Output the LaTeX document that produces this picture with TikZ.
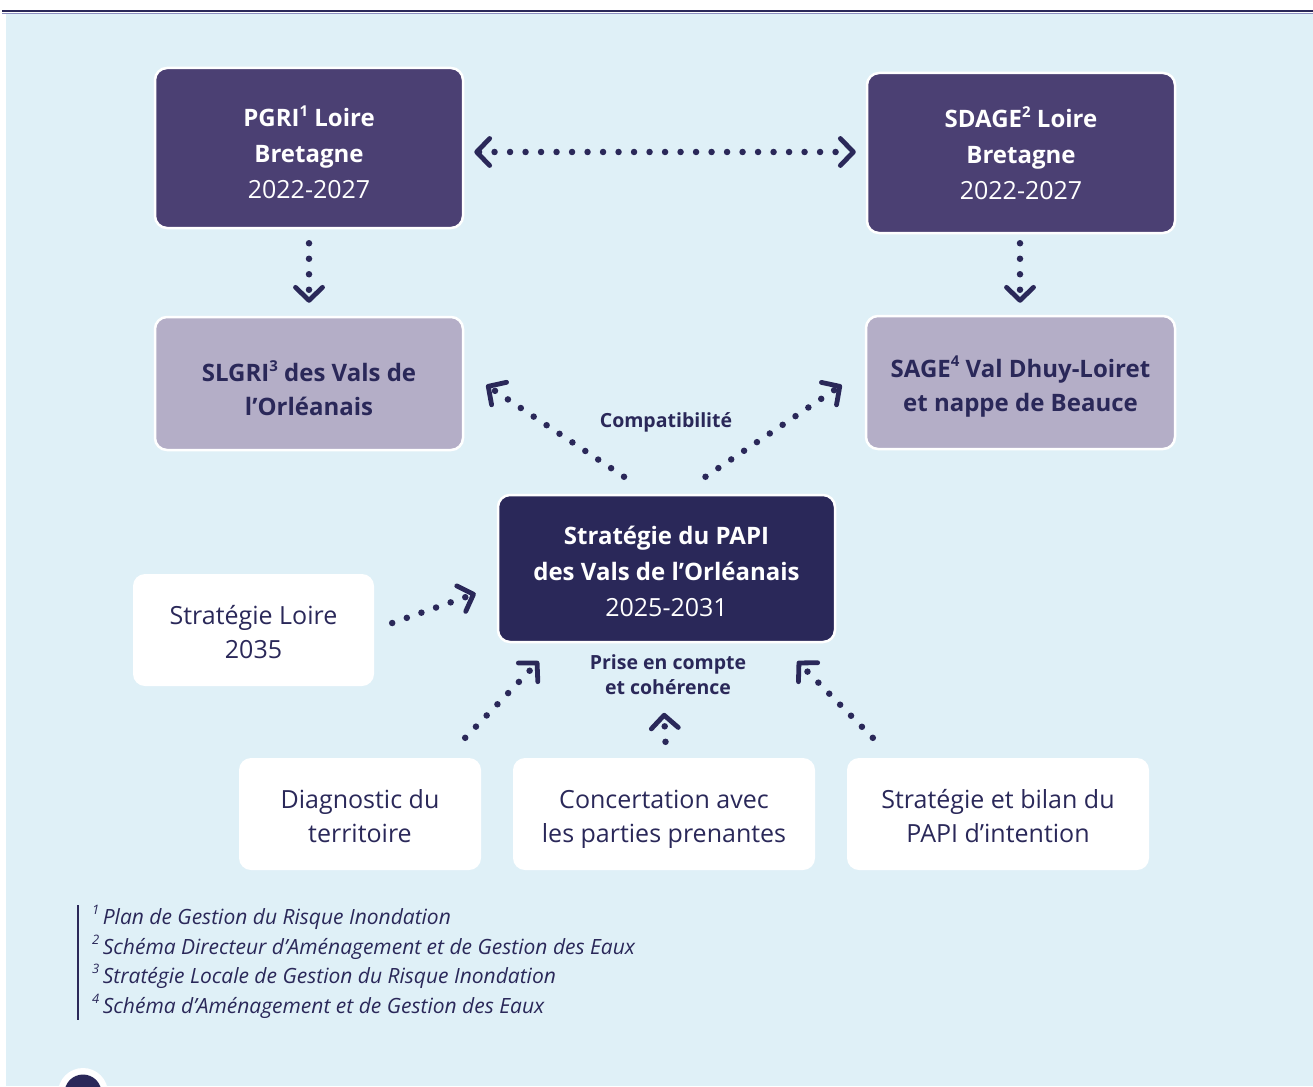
\documentclass[tikz,border=0pt]{standalone}
\usepackage{fontspec}
\setmainfont{Open Sans}
\usetikzlibrary{arrows.meta,calc}
\definecolor{navy}{HTML}{2A2859}
\definecolor{purp}{HTML}{4B4073}
\definecolor{lpurp}{HTML}{B4AEC7}
\definecolor{bgblue}{HTML}{DFF0F7}
\definecolor{lav}{HTML}{8C8FC0}
\newcommand{\sfn}[1]{\raisebox{0.42em}{\fontsize{15}{15}\selectfont #1}}
\newcommand{\fsup}[1]{\raisebox{0.45em}{\fontsize{13}{13}\selectfont #1}\,}
\tikzset{
  box/.style={rounded corners=12pt, inner sep=0pt},
  darkbox/.style={box, fill=purp, draw=white, line width=2.5pt},
  lightbox/.style={box, fill=lpurp, draw=white, line width=2.5pt},
  papibox/.style={box, fill=navy, draw=white, line width=2.5pt},
  whitebox/.style={box, fill=white},
  wtext/.style={text=white, align=center, inner sep=0pt, font=\fontsize{25}{36}\selectfont},
  ntext/.style={text=navy, align=center, inner sep=0pt, font=\fontsize{25}{34}\selectfont},
  btext/.style={text=navy, align=center, inner sep=0pt, font=\fontsize{24}{34}\selectfont\bfseries},
  lbl/.style={text=navy, align=center, font=\fontsize{19.5}{25}\selectfont\bfseries},
  dotarrow/.style={draw=navy, line width=6.5pt, line cap=round, dash pattern=on 0pt off 15.5pt,
    -{Straight Barb[length=13pt,width=27pt,line width=4.8pt,round]}},
  dotarrows/.style={dotarrow, {Straight Barb[length=13pt,width=27pt,line width=4.8pt,round]}-{Straight Barb[length=13pt,width=27pt,line width=4.8pt,round]}},
  fn/.style={text=navy, anchor=base west, inner sep=0pt, font=\fontsize{21}{24}\selectfont\itshape}
}
\begin{document}
\begin{tikzpicture}[x=1pt,y=-1pt]
\useasboundingbox (0,0) rectangle (1313,1086);
\clip (0,0) rectangle (1313,1086);
\fill[white] (0,0) rectangle (1313,1086);
\fill[bgblue] (6,14) rectangle (1313,1086);
\draw[navy, line width=2pt] (2,11.3) -- (1313,11.3);
\draw[lav, line width=1.2pt] (2,13.2) -- (1313,13.2);

% boxes
\node[darkbox, minimum width=308pt, minimum height=160pt] (pgri) at (309,148) {};
\node[wtext] (pgrit) at ($(pgri)+(0,4.5)$)
  {{\fontsize{24}{36}\selectfont\bfseries PGRI\sfn{1} Loire}\\ {\fontsize{24}{36}\selectfont\bfseries Bretagne}\\ 2022-2027};
\node[darkbox, minimum width=308pt, minimum height=160pt] (sdage) at (1021,153) {};
\node[wtext] (sdaget) at ($(sdage)+(0,0)$)
  {{\fontsize{24}{36}\selectfont\bfseries SDAGE\sfn{2} Loire}\\ {\fontsize{24}{36}\selectfont\bfseries Bretagne}\\ 2022-2027};
\node[lightbox, minimum width=308pt, minimum height=133pt] (slgri) at (309,383.5) {};
\node[btext] (slgrit) at ($(slgri)+(0,4.5)$)
  {SLGRI\sfn{3} des Vals de\\ l’Orléanais};
\node[lightbox, minimum width=309pt, minimum height=133pt] (sage) at (1020.5,382.5) {};
\node[btext] (saget) at ($(sage)+(0,4)$)
  {SAGE\sfn{4} Val Dhuy-Loiret\\ et nappe de Beauce};
\node[papibox, minimum width=337pt, minimum height=147pt] (papi) at (666.5,568.5) {};
\node[wtext] (papit) at ($(papi)+(0,3)$)
  {{\fontsize{24}{36}\selectfont\bfseries Stratégie du PAPI}\\ {\fontsize{24}{36}\selectfont\bfseries des Vals de l’Orléanais}\\ 2025-2031};
\node[whitebox, minimum width=241pt, minimum height=112pt] (loire) at (253.5,630) {};
\node[ntext] (loiret) at ($(loire)+(0,2)$) {Stratégie Loire\\ 2035};
\node[whitebox, minimum width=242pt, minimum height=112pt] (diag) at (360,814) {};
\node[ntext] (diagt) at ($(diag)+(0,2)$) {Diagnostic du\\ territoire};
\node[whitebox, minimum width=302pt, minimum height=112pt] (conc) at (664,814) {};
\node[ntext] (conct) at ($(conc)+(0,5)$) {Concertation avec\\ les parties prenantes};
\node[whitebox, minimum width=302pt, minimum height=112pt] (bilan) at (998,814) {};
\node[ntext] (bilant) at ($(bilan)+(0,2)$) {Stratégie et bilan du\\ PAPI d’intention};

% labels
\node[lbl] (compat) at (666,422) {Compatibilité};
\node[lbl] (prise) at (668,675) {Prise en compte\\ et cohérence};

% connectors
\draw[dotarrows] ($(pgri.east)+(10,4)$) -- ($(sdage.west)+(-10,-1)$);
\draw[dotarrow] ($(pgri.south)+(0,14)$) -- ($(slgri.north)+(0,-13)$);
\draw[dotarrow] ($(sdage.south)+(-1,9)$) -- ($(sage.north)+(-0.5,-12)$);
\draw[dotarrow] ($(papi.north)+(-42.5,-17)$) -- ($(slgri.east)+(22,1.5)$);
\draw[dotarrow] ($(papi.north)+(39,-17)$) -- ($(sage.west)+(-23,2.5)$);
\draw[dotarrow] ($(loire.east)+(18,-7)$) -- ($(papi.west)+(-21,25)$);
\draw[dotarrow] ($(diag.north east)+(-16,-20)$) -- ($(papi.south west)+(42,18)$);
\draw[dotarrow] ($(bilan.north west)+(26,-20)$) -- ($(papi.south east)+(-39,18)$);
\draw[dotarrow] ($(conc.north)+(1.5,-16)$) -- ($(conc.north)+(0,-45)$);

% footnotes
\draw[navy, line width=2.5pt] (78,905) -- (78,1020);
\node[fn] (f1) at (92,924) {\fsup{1}Plan de Gestion du Risque Inondation};
\node[fn] (f2) at (92,954) {\fsup{2}Schéma Directeur d’Aménagement et de Gestion des Eaux};
\node[fn] (f3) at (92,983) {\fsup{3}Stratégie Locale de Gestion du Risque Inondation};
\node[fn] (f4) at (92,1013) {\fsup{4}Schéma d’Aménagement et de Gestion des Eaux};

% bottom badge
\fill[white] (83,1093) circle (25);
\fill[navy] (83,1093) circle (18.5);
\end{tikzpicture}
\end{document}
